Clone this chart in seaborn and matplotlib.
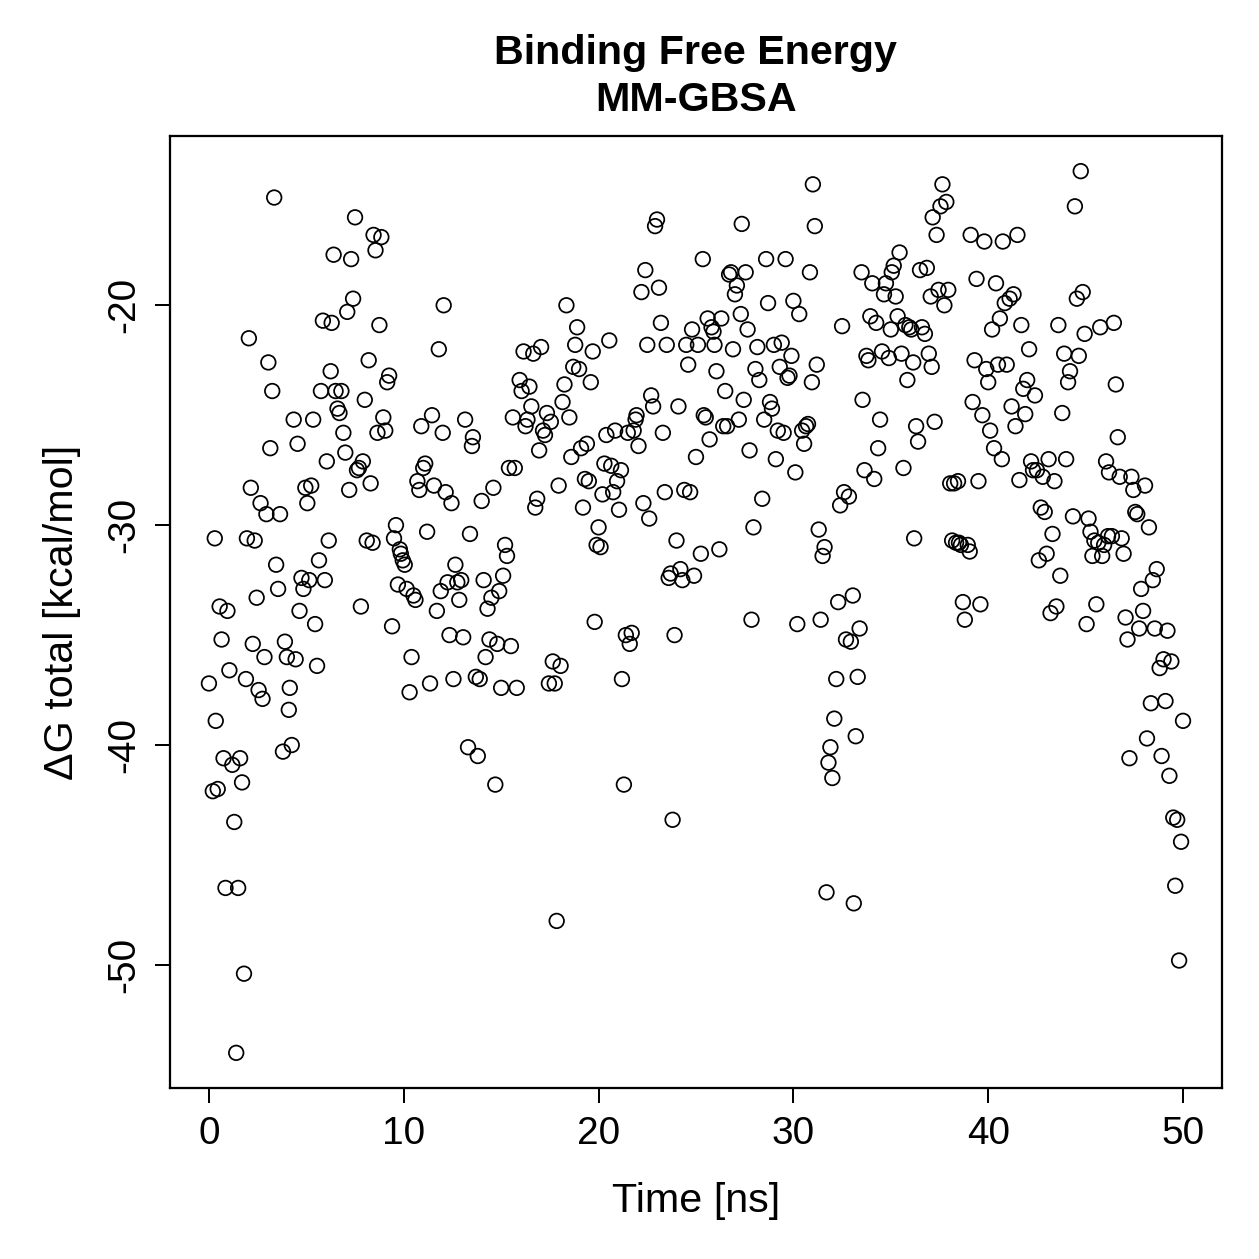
import numpy as np
import pandas as pd
import seaborn as sns
import matplotlib
matplotlib.use('Agg')
import matplotlib.pyplot as plt

# time [ns] and dG total [kcal/mol]
time_ns = [
    0.0, 0.2, 0.3, 0.35, 0.45, 0.55, 0.65, 0.75, 0.85, 0.95, 1.05, 1.2, 1.3, 1.4, 1.5, 1.6, 1.7, 1.8, 1.9, 1.95,
    2.05, 2.15, 2.25, 2.35, 2.45, 2.55, 2.65, 2.75, 2.85, 2.95, 3.05, 3.15, 3.25, 3.35, 3.45, 3.55, 3.65, 3.8, 3.9, 4.0,
    4.1, 4.15, 4.25, 4.35, 4.45, 4.55, 4.65, 4.75, 4.85, 4.95, 5.05, 5.15, 5.25, 5.35, 5.45, 5.55, 5.65, 5.75, 5.85, 5.95,
    6.05, 6.15, 6.25, 6.3, 6.4, 6.5, 6.6, 6.7, 6.8, 6.9, 7.0, 7.1, 7.2, 7.3, 7.4, 7.5, 7.6, 7.7, 7.8, 7.9,
    8.0, 8.1, 8.2, 8.3, 8.4, 8.45, 8.55, 8.65, 8.75, 8.85, 8.95, 9.05, 9.15, 9.25, 9.4, 9.5, 9.6, 9.7, 9.8, 9.85,
    9.95, 10.05, 10.15, 10.3, 10.4, 10.5, 10.6, 10.7, 10.8, 10.9, 11.0, 11.1, 11.2, 11.35, 11.45, 11.55, 11.7, 11.8, 11.9, 12.0,
    12.05, 12.15, 12.25, 12.35, 12.45, 12.55, 12.65, 12.75, 12.85, 12.95, 13.05, 13.15, 13.3, 13.4, 13.5, 13.55, 13.7, 13.8, 13.9, 14.0,
    14.1, 14.2, 14.3, 14.4, 14.5, 14.6, 14.7, 14.8, 14.9, 15.0, 15.1, 15.2, 15.3, 15.4, 15.5, 15.6, 15.7, 15.8, 15.95, 16.05,
    16.15, 16.25, 16.35, 16.45, 16.55, 16.65, 16.75, 16.85, 16.95, 17.05, 17.15, 17.25, 17.35, 17.45, 17.55, 17.65, 17.75, 17.85, 17.95, 18.05,
    18.15, 18.25, 18.35, 18.5, 18.6, 18.7, 18.8, 18.9, 19.0, 19.1, 19.2, 19.3, 19.4, 19.5, 19.6, 19.7, 19.8, 19.9, 20.0, 20.1,
    20.2, 20.3, 20.4, 20.55, 20.65, 20.75, 20.85, 20.95, 21.05, 21.15, 21.2, 21.3, 21.4, 21.5, 21.6, 21.7, 21.8, 21.9, 21.95, 22.05,
    22.2, 22.3, 22.4, 22.5, 22.6, 22.7, 22.8, 22.9, 23.0, 23.1, 23.2, 23.3, 23.4, 23.5, 23.6, 23.7, 23.8, 23.9, 24.0, 24.1,
    24.2, 24.3, 24.4, 24.5, 24.6, 24.7, 24.8, 24.9, 25.0, 25.1, 25.25, 25.35, 25.4, 25.5, 25.6, 25.7, 25.8, 25.9, 25.95, 26.05,
    26.2, 26.3, 26.4, 26.5, 26.6, 26.7, 26.8, 26.9, 27.0, 27.1, 27.2, 27.3, 27.35, 27.45, 27.55, 27.65, 27.75, 27.85, 27.95, 28.05,
    28.15, 28.25, 28.4, 28.5, 28.6, 28.7, 28.8, 28.9, 29.0, 29.1, 29.2, 29.3, 29.4, 29.5, 29.6, 29.7, 29.8, 29.9, 30.0, 30.1,
    30.2, 30.3, 30.45, 30.55, 30.65, 30.75, 30.85, 30.95, 31.0, 31.1, 31.2, 31.3, 31.4, 31.5, 31.6, 31.7, 31.8, 31.9, 32.0, 32.1,
    32.2, 32.3, 32.4, 32.5, 32.6, 32.7, 32.85, 32.95, 33.05, 33.1, 33.2, 33.3, 33.4, 33.5, 33.55, 33.65, 33.75, 33.85, 33.95, 34.05,
    34.15, 34.25, 34.35, 34.45, 34.55, 34.65, 34.75, 34.9, 35.0, 35.05, 35.15, 35.25, 35.35, 35.45, 35.55, 35.65, 35.75, 35.85, 35.95, 36.05,
    36.15, 36.2, 36.3, 36.4, 36.5, 36.6, 36.75, 36.85, 36.95, 37.05, 37.1, 37.15, 37.25, 37.35, 37.45, 37.55, 37.65, 37.75, 37.85, 37.95,
    38.05, 38.15, 38.25, 38.35, 38.45, 38.5, 38.6, 38.7, 38.8, 38.95, 39.05, 39.1, 39.2, 39.3, 39.4, 39.5, 39.6, 39.7, 39.8, 39.9,
    40.0, 40.1, 40.2, 40.3, 40.4, 40.5, 40.6, 40.7, 40.75, 40.85, 40.95, 41.1, 41.2, 41.3, 41.4, 41.5, 41.6, 41.7, 41.8, 41.9,
    42.0, 42.1, 42.2, 42.3, 42.4, 42.5, 42.6, 42.7, 42.8, 42.9, 43.0, 43.1, 43.2, 43.3, 43.4, 43.5, 43.6, 43.7, 43.8, 43.9,
    44.0, 44.1, 44.2, 44.35, 44.45, 44.55, 44.65, 44.75, 44.85, 44.95, 45.05, 45.15, 45.25, 45.35, 45.45, 45.55, 45.65, 45.75, 45.85, 45.95,
    46.05, 46.15, 46.2, 46.35, 46.45, 46.55, 46.65, 46.75, 46.85, 46.95, 47.05, 47.15, 47.25, 47.35, 47.45, 47.55, 47.65, 47.75, 47.85, 47.95,
    48.05, 48.15, 48.25, 48.35, 48.45, 48.55, 48.65, 48.8, 48.9, 49.0, 49.1, 49.2, 49.3, 49.4, 49.5, 49.6, 49.7, 49.8, 49.9, 50.0,
]
dg_total = [
    -37.2, -42.1, -30.6, -38.9, -42.0, -33.7, -35.2, -40.6, -46.5, -33.9, -36.6, -40.9, -43.5, -54.0, -46.5, -40.6, -41.7, -50.4, -37.0, -30.6,
    -21.5, -28.3, -35.4, -30.7, -33.3, -37.5, -29.0, -37.9, -36.0, -29.5, -22.6, -26.5, -23.9, -15.1, -31.8, -32.9, -29.5, -40.3, -35.3, -36.0,
    -38.4, -37.4, -40.0, -25.2, -36.1, -26.3, -33.9, -32.4, -32.9, -28.3, -29.0, -32.5, -28.2, -25.2, -34.5, -36.4, -31.6, -23.9, -20.7, -32.5,
    -27.1, -30.7, -23.0, -20.8, -17.7, -23.9, -24.7, -24.9, -23.9, -25.8, -26.7, -20.3, -28.4, -17.9, -19.7, -16.0, -27.5, -27.4, -33.7, -27.1,
    -24.3, -30.7, -22.5, -28.1, -30.8, -16.8, -17.5, -25.8, -20.9, -16.9, -25.1, -25.7, -23.5, -23.2, -34.6, -30.6, -30.0, -32.7, -31.1, -31.3,
    -31.6, -31.8, -32.9, -37.6, -36.0, -33.2, -33.4, -28.0, -28.4, -25.5, -27.4, -27.2, -30.3, -37.2, -25.0, -28.2, -33.9, -22.0, -33.0, -25.8,
    -20.0, -28.5, -32.6, -35.0, -29.0, -37.0, -31.8, -32.6, -33.4, -32.5, -35.1, -25.2, -40.1, -30.4, -26.4, -26.0, -36.9, -40.5, -37.0, -28.9,
    -32.5, -36.0, -33.8, -35.2, -33.3, -28.3, -41.8, -35.4, -33.0, -37.4, -32.3, -30.9, -31.4, -27.4, -35.5, -25.1, -27.4, -37.4, -23.4, -23.9,
    -22.1, -25.5, -25.2, -23.7, -24.6, -22.2, -29.2, -28.8, -26.6, -21.9, -25.7, -25.9, -24.9, -37.2, -25.3, -36.2, -37.2, -48.0, -28.2, -36.4,
    -24.4, -23.6, -20.0, -25.1, -26.9, -22.8, -21.8, -21.0, -22.9, -26.5, -29.2, -27.9, -26.3, -28.0, -23.5, -22.1, -34.4, -30.9, -30.1, -31.0,
    -28.6, -27.2, -25.9, -21.6, -27.3, -28.5, -25.7, -28.0, -29.3, -27.5, -37.0, -41.8, -35.0, -25.8, -35.4, -34.9, -25.7, -25.2, -25.0, -26.4,
    -19.4, -29.0, -18.4, -21.8, -29.7, -24.1, -24.6, -16.4, -16.1, -19.2, -20.8, -25.8, -28.5, -21.8, -32.4, -32.2, -43.4, -35.0, -30.7, -24.6,
    -32.0, -32.5, -28.4, -21.8, -22.7, -28.5, -21.1, -32.3, -26.9, -21.8, -31.3, -17.9, -25.0, -25.1, -20.6, -26.1, -21.0, -21.2, -21.8, -23.0,
    -31.1, -20.6, -25.5, -23.9, -25.5, -18.6, -18.5, -22.0, -19.5, -19.1, -25.2, -20.4, -16.3, -24.3, -18.5, -21.1, -26.6, -34.3, -30.1, -22.9,
    -21.9, -23.4, -28.8, -25.2, -17.9, -19.9, -24.4, -24.7, -21.8, -27.0, -25.7, -22.8, -21.7, -25.8, -17.9, -23.3, -23.2, -22.3, -19.8, -27.6,
    -34.5, -20.4, -25.7, -26.3, -25.5, -25.4, -18.5, -23.5, -14.5, -16.4, -22.7, -30.2, -34.3, -31.4, -31.0, -46.7, -40.8, -40.1, -41.5, -38.8,
    -37.0, -33.5, -29.1, -20.95, -28.5, -35.2, -28.7, -35.3, -33.2, -47.2, -39.6, -36.9, -34.7, -18.5, -24.3, -27.5, -22.3, -22.5, -20.5, -19.0,
    -27.9, -20.8, -26.5, -25.2, -22.1, -19.5, -19.0, -22.4, -21.1, -18.5, -18.2, -19.6, -20.5, -17.6, -22.2, -27.4, -20.9, -23.4, -21.0, -21.1,
    -22.6, -30.6, -25.5, -26.2, -18.4, -21.0, -21.3, -18.3, -22.2, -19.6, -22.8, -16.0, -25.3, -16.8, -19.3, -15.5, -14.5, -20.0, -15.3, -19.3,
    -28.1, -30.7, -28.1, -30.8, -28.0, -30.8, -30.9, -33.5, -34.3, -30.9, -31.2, -16.8, -24.4, -22.5, -18.8, -28.0, -33.6, -25.0, -17.1, -22.9,
    -23.5, -25.7, -21.1, -26.5, -19.0, -22.7, -20.6, -27.0, -17.1, -19.9, -22.7, -19.7, -24.6, -19.5, -25.5, -16.8, -27.95, -20.9, -23.8, -24.95,
    -23.4, -22.0, -27.1, -27.5, -24.1, -27.5, -31.6, -29.2, -27.8, -29.4, -31.3, -27.0, -34.0, -30.4, -28.0, -33.7, -20.9, -32.3, -24.9, -22.2,
    -27.0, -23.5, -23.0, -29.6, -15.5, -19.7, -22.3, -13.9, -19.4, -21.3, -34.5, -29.7, -30.3, -31.4, -30.7, -33.6, -30.8, -21.0, -31.4, -30.9,
    -27.1, -30.5, -27.6, -30.5, -20.8, -23.6, -26.0, -27.8, -30.6, -31.3, -34.2, -35.2, -40.6, -27.8, -28.4, -29.4, -29.5, -34.7, -32.9, -33.9,
    -28.2, -39.7, -30.1, -38.1, -32.5, -34.7, -32.0, -36.5, -40.5, -36.1, -38.0, -34.8, -41.4, -36.2, -43.3, -46.4, -43.4, -49.8, -44.4, -38.9,
]

df = pd.DataFrame({'time': time_ns, 'dG': dg_total})

plt.rcParams['font.family'] = ['Liberation Sans', 'DejaVu Sans']
plt.rcParams['axes.unicode_minus'] = False

fig = plt.figure(figsize=(1259 / 180, 1259 / 180), dpi=180)
ax = fig.add_axes([0.135, 0.1358, 0.8356, 0.7562])

sns.scatterplot(data=df, x='time', y='dG', ax=ax, marker='o', s=34,
                facecolor='none', edgecolor='black', linewidth=0.7)

ax.set_xlim(-2, 52)
ax.set_ylim(-55.6, -12.3)
ax.set_xticks([0, 10, 20, 30, 40, 50])
ax.set_yticks([-50, -40, -30, -20])
ax.tick_params(direction='out', length=6, width=0.8, labelsize=15.5, pad=5)
for lab in ax.get_yticklabels():
    lab.set_rotation(90)
    lab.set_va('center')
for sp in ax.spines.values():
    sp.set_linewidth(0.9)

ax.set_xlabel('Time [ns]', fontsize=16.5, labelpad=12)
ax.set_ylabel('ΔG total [kcal/mol]', fontsize=16.5, labelpad=10)
ax.set_title('Binding Free Energy\nMM-GBSA', fontsize=16.5, fontweight='bold',
             pad=10, linespacing=1.3)

fig.savefig('out.png', dpi=180)
